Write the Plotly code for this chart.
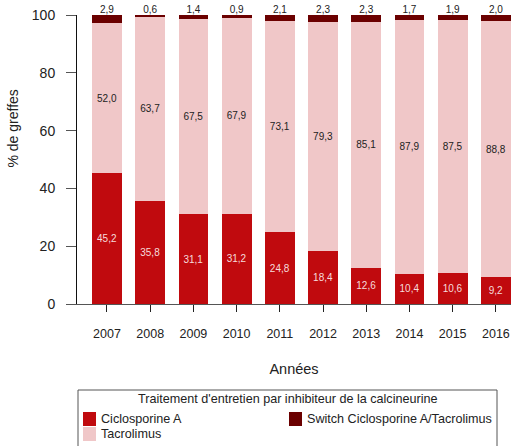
import plotly.graph_objects as go

years = ["2007", "2008", "2009", "2010", "2011", "2012", "2013", "2014", "2015", "2016"]
ciclosporine = [45.2, 35.8, 31.1, 31.2, 24.8, 18.4, 12.6, 10.4, 10.6, 9.2]
tacrolimus = [52.0, 63.7, 67.5, 67.9, 73.1, 79.3, 85.1, 87.9, 87.5, 88.8]
switch = [2.9, 0.6, 1.4, 0.9, 2.1, 2.3, 2.3, 1.7, 1.9, 2.0]
y_ticks = [0, 20, 40, 60, 80, 100]
series_names = ["Ciclosporine A", "Tacrolimus", "Switch Ciclosporine A/Tacrolimus"]
legend_title = "Traitement d'entretien par inhibiteur de la calcineurine"
y_title = "% de greffes"
x_title = "Années"

C_CIC = "#C00A0E"
C_TAC = "#F0C7C8"
C_SW = "#6B0000"
FONT = "Liberation Sans, Arial, sans-serif"

# page body margin is removed (see post_script), so the figure fills the window
OFF = 0
W, H = 511 - OFF, 446 - OFF
ML, MR, MT, MB = 77 - OFF, 0, 15 - OFF, 142
PW, PH = W - ML - MR, H - MT - MB
Y_MAX = 100


def fr(vals):
    return [f"{v:.1f}".replace(".", ",") for v in vals]


def px(x):
    # window pixel -> paper x
    return (x - OFF - ML) / PW


def py(y):
    # window pixel -> paper y
    return (H - MB - (y - OFF)) / PH


fig = go.Figure()
fig.add_trace(go.Bar(
    x=years, y=ciclosporine, name=series_names[0], marker=dict(color=C_CIC, line=dict(width=0)),
    text=fr(ciclosporine), textposition="inside", insidetextanchor="middle", textangle=0,
    textfont=dict(size=10, color="#F6DCDC", family=FONT), cliponaxis=False,
))
fig.add_trace(go.Bar(
    x=years, y=tacrolimus, name=series_names[1], marker=dict(color=C_TAC, line=dict(width=0)),
    text=fr(tacrolimus), textposition="inside", insidetextanchor="middle", textangle=0,
    textfont=dict(size=10, color="#222222", family=FONT), cliponaxis=False,
))
fig.add_trace(go.Bar(
    x=years, y=switch, name=series_names[2], marker=dict(color=C_SW, line=dict(width=0)),
    textposition="none", cliponaxis=False,
))

# labels of the top (switch) segment, placed just above each stack
totals = [min(a + b + c, Y_MAX) for a, b, c in zip(ciclosporine, tacrolimus, switch)]
fig.add_trace(go.Scatter(
    x=years, y=totals, mode="text", text=fr(switch), textposition="top center",
    textfont=dict(size=10, color="#222222", family=FONT), cliponaxis=False,
    hoverinfo="skip", showlegend=False,
))

annotations = []
# y axis title (placed as in the reference, off-centre)
annotations.append(dict(x=px(12.5), y=py(129), xref="paper", yref="paper", text=y_title,
                        showarrow=False, textangle=-90, xanchor="center", yanchor="middle",
                        font=dict(size=14, color="#222222", family=FONT)))

# legend (drawn manually to match the reference layout)
shapes = [dict(type="rect", xref="paper", yref="paper", x0=px(78), x1=px(497), y0=py(470), y1=py(390),
               line=dict(color="#555555", width=1), fillcolor="white", layer="below")]
annotations.append(dict(x=px(287.5), y=py(399), xref="paper", yref="paper", text=legend_title,
                        showarrow=False, xanchor="center", yanchor="middle",
                        font=dict(size=12.6, color="#222222", family=FONT)))
legend_items = [
    (series_names[0], C_CIC, 83, 412),
    (series_names[1], C_TAC, 83, 427),
    (series_names[2], C_SW, 289, 412),
]
for name, col, lx, ly in legend_items:
    shapes.append(dict(type="rect", xref="paper", yref="paper", x0=px(lx), x1=px(lx + 13),
                       y0=py(ly + 14), y1=py(ly), line=dict(width=0), fillcolor=col))
    annotations.append(dict(x=px(lx + 16), y=py(ly + 7), xref="paper", yref="paper", text=name,
                            showarrow=False, xanchor="left", yanchor="middle",
                            font=dict(size=12.6, color="#222222", family=FONT)))

fig.update_layout(
    width=W, height=H,
    margin=dict(l=ML, r=MR, t=MT, b=MB, autoexpand=False),
    barmode="stack", bargap=0.31,
    plot_bgcolor="white", paper_bgcolor="white",
    font=dict(family=FONT, color="#222222"),
    showlegend=False,
    shapes=shapes,
    annotations=annotations,
    xaxis=dict(
        type="category", range=[-0.694, 9.35],
        showline=True, linecolor="#555555", linewidth=1,
        ticks="outside", ticklen=7, tickcolor="#222222",
        tickfont=dict(size=12.5, family=FONT), ticklabelstandoff=11,
        showgrid=False, zeroline=False,
        title=dict(text=x_title, font=dict(size=14.5, family=FONT), standoff=23),
    ),
    yaxis=dict(
        range=[0, Y_MAX], tickvals=y_ticks,
        showline=True, linecolor="#111111", linewidth=1,
        ticks="outside", ticklen=10, tickcolor="#555555",
        tickfont=dict(size=14, family=FONT), ticklabelstandoff=8,
        ticklabeloverflow="allow",
        showgrid=False, zeroline=False,
    ),
)

fig.write_html(
    "out.html",
    config={"displayModeBar": False},
    post_script="document.body.style.margin='0';document.documentElement.style.overflow='hidden';",
)
